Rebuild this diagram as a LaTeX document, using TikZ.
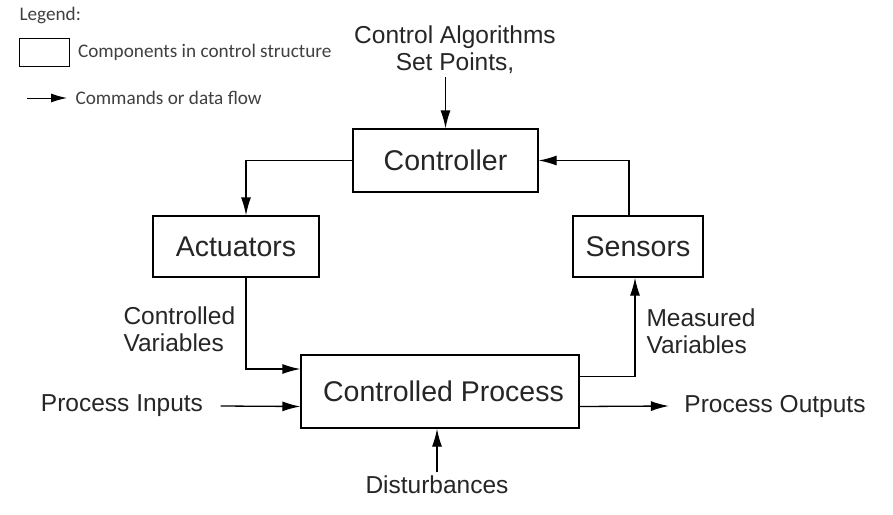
\documentclass[tikz,border=0pt]{standalone}
\usepackage{fontspec}
\setmainfont{Liberation Sans}
\newfontfamily\legendfont{Carlito}
\usetikzlibrary{arrows.meta,positioning}

\begin{document}
\begin{tikzpicture}[x=1pt,y=-1pt,
        block/.style={rectangle,draw,line width=1.3pt,text=black!85,font=\fontsize{28.5}{30}\selectfont},
        lbl/.style={text=black!85,align=left,font=\fontsize{24.5}{27}\selectfont},
        flow/.style={-{Latex[length=18pt,width=10pt]},line width=1.3pt},
        lgd/.style={text=black!75,font=\legendfont\fontsize{19.2}{21}\selectfont}]
        \useasboundingbox[fill=white] (0,0) rectangle (893,514);

        % legend
        \node[lgd,anchor=west] (legendtitle) at (16,15) {Legend:};
        \node[rectangle,draw,line width=1pt,minimum width=50,minimum height=28] (legendbox) at (44,52) {};
        \node[lgd,right=5pt of legendbox] (legendboxtext) {Components in control structure};
        \coordinate (legendstart) at (27,98);
        \coordinate (legendend) at (67,98);
        \draw[-{Latex[length=16pt,width=9pt]},line width=1pt] (legendstart) -- (legendend);
        \node[lgd,right=5pt of legendend] (legendflowtext) {Commands or data flow};

        % control loop
        \node[block,minimum width=185,minimum height=63] (controller) at (445.5,160.5) {Controller};
        \node[block,minimum width=166,minimum height=61] (actuators) at (236,246.5) {Actuators};
        \node[block,minimum width=130,minimum height=61] (sensors) at (638,246.5) {Sensors};
        \node[block,minimum width=278,minimum height=73] (process) at (440,391.5) {\hspace*{7pt}Controlled Process};

        \node[lbl,align=center] (setpoints) at (455,50) {Control Algorithms\\Set Points,};
        \node[lbl,anchor=west] (ctrlvars) at (120,329) {Controlled\\Variables};
        \node[lbl,anchor=west] (measvars) at (643,331) {Measured\\Variables};
        \node[lbl] (inputs) at (122,406) {Process Inputs};
        \node[lbl] (outputs) at (775,406) {Process Outputs};
        \node[lbl] (disturb) at (437,485) {Disturbances};

        \draw[flow] ([xshift=-9.5]setpoints.south) -- (controller.north);
        \draw[flow] (controller.west) -| ([xshift=10]actuators.north);
        \draw[flow] ([xshift=-9]sensors.north) |- (controller.east);
        \draw[flow] ([xshift=10]actuators.south) |- ([yshift=22.5]process.west);
        \draw[flow] ([yshift=15]process.east) -| ([xshift=-3]sensors.south);
        \draw[flow] ([xshift=14]inputs.east) -- ([yshift=-15]process.west);
        \draw[flow] ([yshift=-15]process.east) -- ([xshift=-12]outputs.west);
        \draw[flow] (disturb.north) -- (disturb.north |- process.south);
    \end{tikzpicture}
\end{document}
